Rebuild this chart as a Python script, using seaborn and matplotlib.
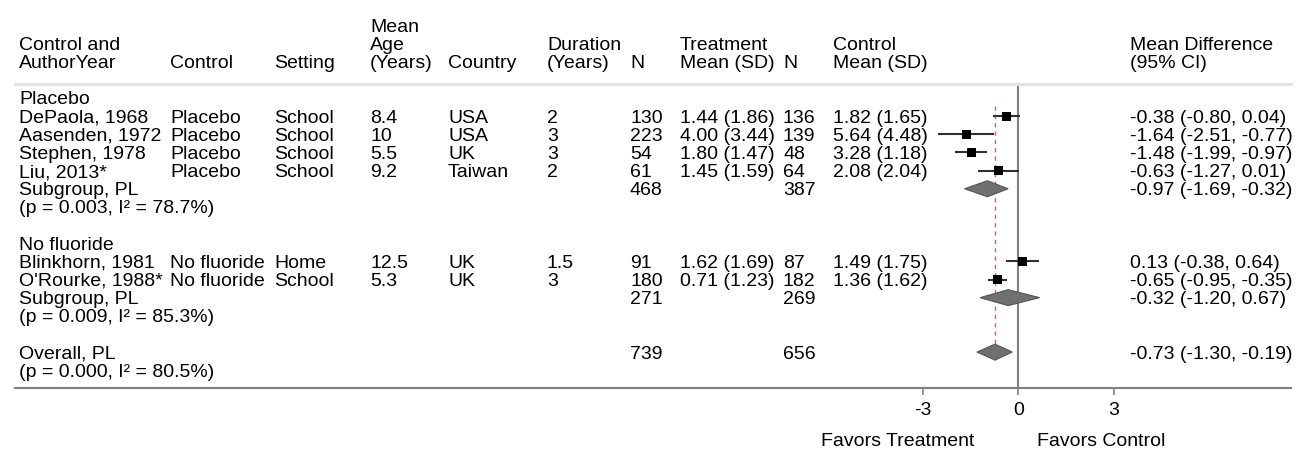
import numpy as np
import pandas as pd
import seaborn as sns
import matplotlib.pyplot as plt
from matplotlib.patches import Polygon
from matplotlib.transforms import blended_transform_factory

sns.set_style('white')
plt.rcParams['font.family'] = ['Liberation Sans', 'DejaVu Sans']
plt.rcParams['font.size'] = 14
plt.rcParams['text.color'] = 'black'
plt.rcParams['axes.unicode_minus'] = False

# ---- data ----
groups = ['Placebo', 'No fluoride']
study = ['DePaola, 1968', 'Aasenden, 1972', 'Stephen, 1978', 'Liu, 2013*',
         'Blinkhorn, 1981', "O'Rourke, 1988*"]
study_group = ['Placebo', 'Placebo', 'Placebo', 'Placebo', 'No fluoride', 'No fluoride']
control = ['Placebo', 'Placebo', 'Placebo', 'Placebo', 'No fluoride', 'No fluoride']
setting = ['School', 'School', 'School', 'School', 'Home', 'School']
mean_age = ['8.4', '10', '5.5', '9.2', '12.5', '5.3']
country = ['USA', 'USA', 'UK', 'Taiwan', 'UK', 'UK']
duration = ['2', '3', '3', '2', '1.5', '3']
n_treat = [130, 223, 54, 61, 91, 180]
treat_msd = ['1.44 (1.86)', '4.00 (3.44)', '1.80 (1.47)', '1.45 (1.59)', '1.62 (1.69)', '0.71 (1.23)']
n_ctrl = [136, 139, 48, 64, 87, 182]
ctrl_msd = ['1.82 (1.65)', '5.64 (4.48)', '3.28 (1.18)', '2.08 (2.04)', '1.49 (1.75)', '1.36 (1.62)']
md = [-0.38, -1.64, -1.48, -0.63, 0.13, -0.65]
md_lo = [-0.80, -2.51, -1.99, -1.27, -0.38, -0.95]
md_hi = [0.04, -0.77, -0.97, 0.01, 0.64, -0.35]

# pooled estimates: one per group, then overall
pool_label = ['Subgroup, PL', 'Subgroup, PL', 'Overall, PL']
pool_p = ['0.003', '0.009', '0.000']
pool_i2 = ['78.7', '85.3', '80.5']
pool_n_treat = [468, 271, 739]
pool_n_ctrl = [387, 269, 656]
pool_md = [-0.97, -0.32, -0.73]
pool_lo = [-1.69, -1.20, -1.30]
pool_hi = [-0.32, 0.67, -0.19]

x_ticks = [-3, 0, 3]

# ---- layout (pixels of the 1307x453 canvas) ----
W, H = 1307, 453
AX_L, AX_R, AX_T, AX_B = 15, 1291, 84, 388
ZERO_PX, PX_PER_UNIT = 1018.3, 31.83
ROW0_PX, ROW_PX = 98, 18.15
col_px = dict(study=19, control=170, setting=274, age=370, country=448,
              duration=547, n_t=630, treat=680, n_c=783, ctrl=833, md=1130)

# build row numbers
study_rows, group_rows, pool_rows = [], [], []
r = 0
for g in groups:
    group_rows.append(r)
    r += 1
    for sg in study_group:
        if sg == g:
            study_rows.append(r)
            r += 1
    pool_rows.append(r)
    r += 3
pool_rows.append(r)

fig = plt.figure(figsize=(W / 100, H / 100), dpi=100)
ax = fig.add_axes([AX_L / W, (H - AX_B) / H, (AX_R - AX_L) / W, (AX_B - AX_T) / H])
ax.set_xlim((AX_L - ZERO_PX) / PX_PER_UNIT, (AX_R - ZERO_PX) / PX_PER_UNIT)
ax.set_ylim((AX_B - ROW0_PX) / ROW_PX, (AX_T - ROW0_PX) / ROW_PX)

trans = blended_transform_factory(ax.transAxes, ax.transData)


def cx(name):
    return (col_px[name] - AX_L) / (AX_R - AX_L)


def put(name, row, s, **kw):
    return ax.text(cx(name), row, s, transform=trans, ha='left',
                   va='center_baseline', color='black', **kw)


# header
put('study', -3, 'Control and')
put('study', -2, 'AuthorYear')
put('control', -2, 'Control')
put('setting', -2, 'Setting')
put('age', -4, 'Mean')
put('age', -3, 'Age')
put('age', -2, '(Years)')
put('country', -2, 'Country')
put('duration', -3, 'Duration')
put('duration', -2, '(Years)')
put('n_t', -2, 'N')
put('treat', -3, 'Treatment')
put('treat', -2, 'Mean (SD)')
put('n_c', -2, 'N')
put('ctrl', -3, 'Control')
put('ctrl', -2, 'Mean (SD)')
put('md', -3, 'Mean Difference')
put('md', -2, '(95% CI)')

for g, row in zip(groups, group_rows):
    put('study', row, g)

for i, row in enumerate(study_rows):
    put('study', row, study[i])
    put('control', row, control[i])
    put('setting', row, setting[i])
    put('age', row, mean_age[i])
    put('country', row, country[i])
    put('duration', row, duration[i])
    put('n_t', row, str(n_treat[i]))
    put('treat', row, treat_msd[i])
    put('n_c', row, str(n_ctrl[i]))
    put('ctrl', row, ctrl_msd[i])
    put('md', row, f'{md[i]:.2f} ({md_lo[i]:.2f}, {md_hi[i]:.2f})')

for i, row in enumerate(pool_rows):
    put('study', row, pool_label[i])
    put('n_t', row, str(pool_n_treat[i]))
    put('n_c', row, str(pool_n_ctrl[i]))
    put('md', row, f'{pool_md[i]:.2f} ({pool_lo[i]:.2f}, {pool_hi[i]:.2f})')
    put('study', row + 1, f'(p = {pool_p[i]}, I\u00b2 = {pool_i2[i]}%)')

# forest marks
df = pd.DataFrame({'row': study_rows, 'md': md, 'lo': md_lo, 'hi': md_hi})
ax.hlines(df['row'], df['lo'], df['hi'], color='#303030', lw=1.5, zorder=3)
sns.scatterplot(data=df, x='md', y='row', marker='s', s=42, color='black',
                edgecolor='none', ax=ax, zorder=4, legend=False)

for m, lo, hi, row in zip(pool_md, pool_lo, pool_hi, pool_rows):
    h = 0.44
    ax.add_patch(Polygon([(lo, row), (m, row - h), (hi, row), (m, row + h)],
                         closed=True, facecolor='#707070', edgecolor='#555555',
                         lw=0.8, zorder=4))

ax.axvline(0, color='#808080', lw=1.5, zorder=2)
ax.vlines(pool_md[-1], study_rows[0] - 0.55, pool_rows[-1] + 0.45,
          colors='#c06868', linestyles=(0, (3, 3)), lw=1, zorder=2)

# axes styling
for s in ['left', 'right']:
    ax.spines[s].set_visible(False)
ax.spines['top'].set_color('#e0e0e0')
ax.spines['top'].set_linewidth(2)
ax.spines['bottom'].set_color('#808080')
ax.spines['bottom'].set_linewidth(1.5)
ax.set_xticks(x_ticks)
ax.set_xticklabels([str(t) for t in x_ticks])
ax.set_yticks([])
ax.set_xlabel('')
ax.set_ylabel('')
ax.tick_params(axis='x', bottom=True, length=5, width=1.2, color='#808080',
               labelsize=14, pad=5, labelcolor='black')

ax.annotate('Favors Treatment', xy=(-1.39, 0), xycoords=('data', 'axes fraction'),
            xytext=(0, -37), textcoords='offset points', ha='right', va='center_baseline')
ax.annotate('Favors Control', xy=(0.58, 0), xycoords=('data', 'axes fraction'),
            xytext=(0, -37), textcoords='offset points', ha='left', va='center_baseline')

fig.savefig('out.png', dpi=100, facecolor='white')
